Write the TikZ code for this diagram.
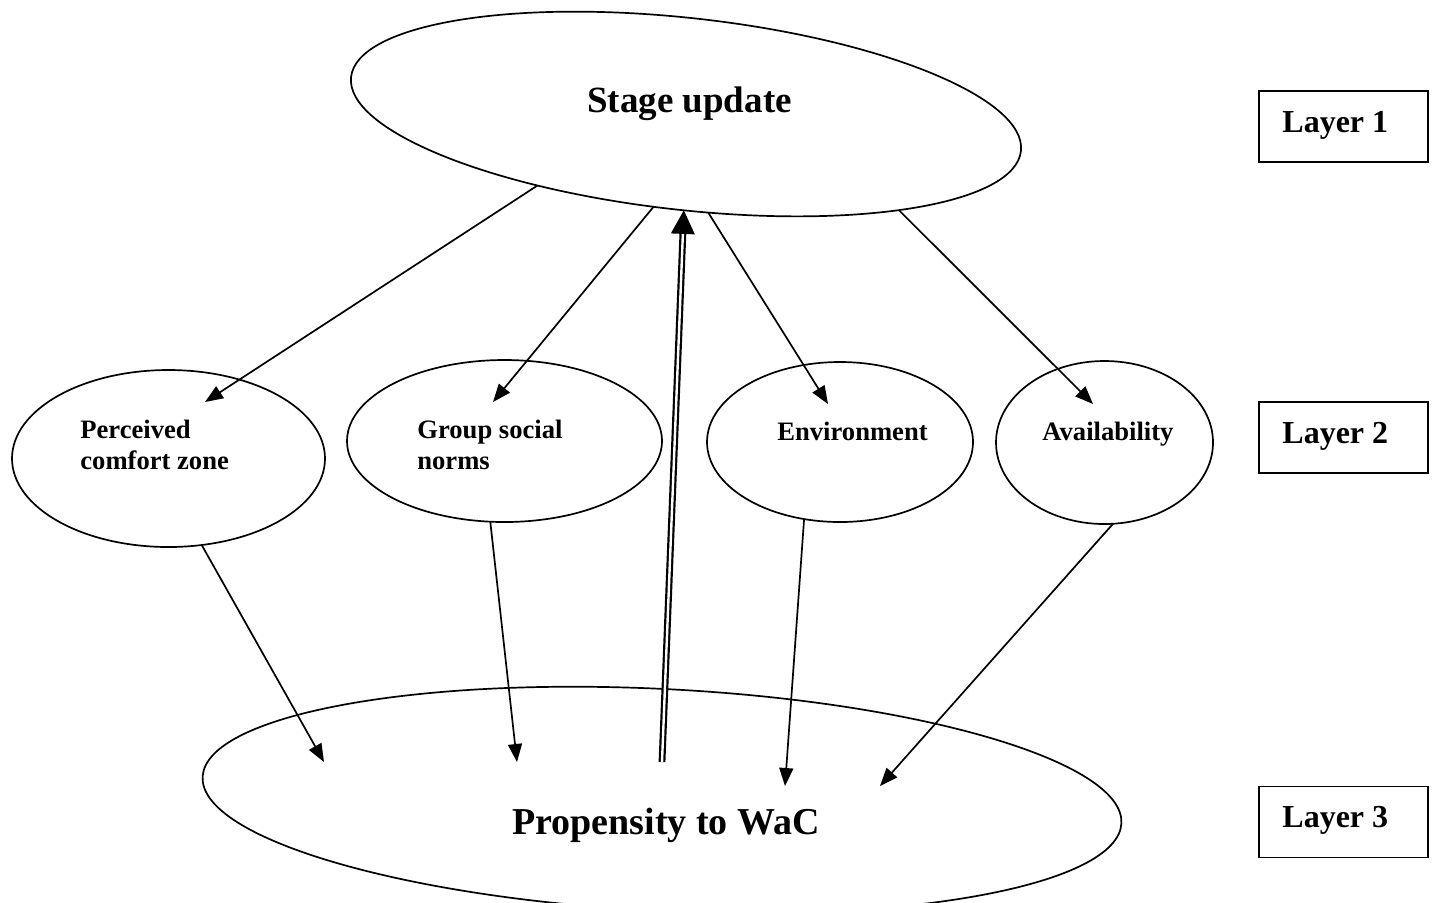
\documentclass[tikz,border=0pt]{standalone}
\usepackage{fontspec}
\setmainfont{Liberation Serif}
\usetikzlibrary{arrows.meta,shapes.geometric,calc}
\begin{document}
\begin{tikzpicture}[x=0.5pt,y=-0.5pt,
  oval/.style={draw, ellipse, line width=0.85pt, inner sep=0pt, outer sep=0pt},
  layerbox/.style={draw, rectangle, line width=0.9pt, minimum width=84.5pt,
    minimum height=35.5pt, inner sep=0pt, outer sep=0pt},
  bigtext/.style={font=\bfseries\fontsize{18.5}{22}\selectfont, inner sep=0pt, anchor=base},
  lbl/.style={font=\bfseries\fontsize{13.3}{15.5}\selectfont, inner sep=0pt, anchor=base west},
  layertext/.style={font=\bfseries\fontsize{16}{19}\selectfont, inner sep=0pt, anchor=base west},
  arr/.style={line width=0.85pt, -{Triangle[length=9pt,width=7pt]}},
  ]
\fill[white] (0,0) rectangle (1433,902);
\useasboundingbox (0,0) rectangle (1433,902);
\clip (0,0) rectangle (1433,902);

% top layer
\node[oval, minimum width=337pt, minimum height=96pt, rotate=-6.3] (stage) at (686,114) {};
\node[bigtext] (stageT) at (689.5,112) {Stage update};

% middle layer
\node[oval, minimum width=156.5pt, minimum height=88.5pt] (perc) at (168.5,458.5) {};
\node[oval, minimum width=157.5pt, minimum height=81pt] (group) at (504.5,441) {};
\node[oval, minimum width=133pt, minimum height=80pt] (env) at (840,442) {};
\node[oval, minimum width=108.5pt, minimum height=81.5pt] (avail) at (1104.5,442.5) {};
\node[lbl] (percA) at (80,438) {Perceived};
\node[lbl] (percB) at (80,469) {comfort zone};
\node[lbl] (groupA) at (417,438) {Group social};
\node[lbl] (groupB) at (417,469) {norms};
\node[lbl] (envT) at (777,440) {Environment};
\node[lbl] (availT) at (1042,440) {Availability};

% bottom layer
\node[oval, minimum width=460pt, minimum height=111pt, rotate=-2.9] (prop) at (662,800) {};
\node[bigtext, font=\bfseries\fontsize{19}{22}\selectfont] (propT) at (666,834) {Propensity to WaC};

% layer boxes
\node[layerbox] (L1) at (1343.5,126.5) {};
\node[layertext] (L1T) at (1282,132) {Layer 1};
\node[layerbox] (L2) at (1343.5,437.5) {};
\node[layertext] (L2T) at (1282,443) {Layer 2};
\node[layerbox] (L3) at (1343.5,822) {};
\node[layertext] (L3T) at (1282,827) {Layer 3};

% arrow tips inside the target ovals
\coordinate (tPerc) at (205,402);
\coordinate (tGroup) at (493,402);
\coordinate (tEnv) at (828,404);
\coordinate (tAvail) at (1093,404);
\coordinate (tP1) at (324,762);
\coordinate (tP2) at (517,762);
\coordinate (tP3) at (785,786);
\coordinate (tP4) at (880,786);
\coordinate (fb) at (662,762);

% top -> middle
\draw[arr] (stage.212.6) -- (tPerc);
\draw[arr] (stage.257.3) -- (tGroup);
\draw[arr] (stage.289.9) -- (tEnv);
\draw[arr] (stage.342.7) -- (tAvail);

% middle -> bottom
\draw[arr] (perc.291.9) -- (tP1);
\draw[arr] (group.260.5) -- (tP2);
\draw[arr] (env.245.8) -- (tP3);
\draw[arr] (avail.276.7) -- (tP4);

% feedback: double line with a large head
\coordinate (fbTip) at (stage.275.7);
\coordinate (fbBase) at ($(fbTip)!11.8pt!(fb)$);
\draw[line width=1.1pt, double, double distance=1.2pt] (fb) -- (fbBase);
\draw[line width=0.85pt, -{Triangle[length=11.8pt,width=11.8pt]}] (fbBase) -- (fbTip);
\end{tikzpicture}
\end{document}
